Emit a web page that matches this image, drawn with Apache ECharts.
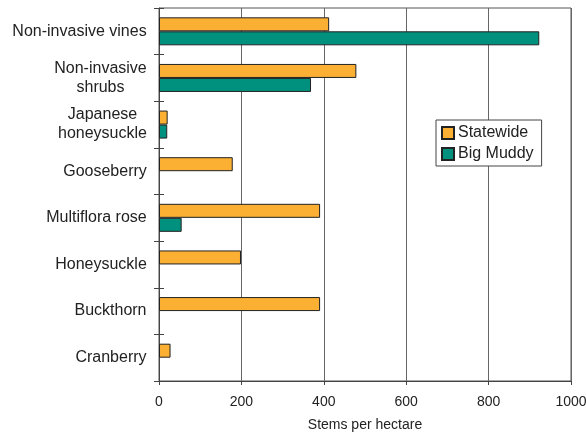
<!DOCTYPE html>
<html><head><meta charset="utf-8">
<script src="https://cdn.jsdelivr.net/npm/echarts@6/dist/echarts.min.js"></script>
<style>html,body{margin:0;padding:0;background:#fff}#c{width:586px;height:434px}</style>
</head><body><div id="c"></div>
<script>
const categories = ["Non-invasive vines", "Non-invasive\nshrubs", "Japanese\nhoneysuckle", "Gooseberry", "Multiflora rose", "Honeysuckle", "Buckthorn", "Cranberry"];
const statewide = [413, 479, 21, 179, 391, 199, 391, 28];
const bigMuddy = [923, 369, 20, null, 55, null, null, null];
const xTicks = [0, 200, 400, 600, 800, 1000];

const font = '"Liberation Sans", Arial, sans-serif';
const labelSize = 16;
const W = 586, GL = 159, GR = 15;
// centre the lines of each multi-line label within its own block
const ctx = document.createElement('canvas').getContext('2d');
ctx.font = labelSize + 'px ' + font;
const rich = {};
categories.forEach((c, i) => {
  const w = Math.max(...c.split('\n').map(s => ctx.measureText(s).width));
  rich['r' + i] = {width: Math.ceil(w), align: 'center', fontSize: labelSize, color: '#222', fontFamily: font, lineHeight: 19};
});

const chart = echarts.init(document.getElementById('c'), null, {renderer: 'canvas'});
const yBase = {type: 'category', data: categories, inverse: true};
chart.setOption({
  animation: false,
  textStyle: {fontFamily: font},
  grid: {left: GL, top: 8, right: GR, bottom: 53, show: true, borderColor: '#555', borderWidth: 1,
         containLabel: false, outerBoundsMode: 'none'},
  legend: {
    orient: 'vertical', left: 436, top: 120, backgroundColor: '#fff', borderColor: '#444', borderWidth: 1,
    padding: [5, 8, 4, 5], itemGap: 5, itemWidth: 12, itemHeight: 12, icon: 'rect',
    textStyle: {fontSize: 16, color: '#222', fontFamily: font, padding: [0, 0, 0, -1]},
    data: ['Statewide', 'Big Muddy']
  },
  xAxis: {
    type: 'value', min: xTicks[0], max: xTicks[xTicks.length - 1], interval: 200,
    name: 'Stems per hectare', nameLocation: 'middle', nameGap: 37,
    nameTextStyle: {fontSize: 14, color: '#222', fontFamily: font},
    axisLine: {show: true, lineStyle: {color: '#444'}},
    axisTick: {show: true, length: 4, inside: false, lineStyle: {color: '#444'}},
    axisLabel: {fontSize: 14, color: '#222', margin: 14, fontFamily: font, formatter: v => String(v)},
    splitLine: {show: true, lineStyle: {color: '#666', width: 1}}
  },
  yAxis: [
    Object.assign({}, yBase, {
      position: 'left',
      axisLine: {show: true, lineStyle: {color: '#444'}},
      axisTick: {show: true, length: 5, lineStyle: {color: '#444'}},
      axisLabel: {
        fontSize: labelSize, color: '#222', margin: 12, lineHeight: 19, align: 'right', fontFamily: font,
        formatter: (v, i) => v.split('\n').map(s => '{r' + i + '|' + s + '}').join('\n'),
        rich: rich
      },
      splitLine: {show: false}
    }),
    Object.assign({}, yBase, {
      position: 'right',
      offset: -(W - GL - GR),
      axisLine: {show: false},
      axisTick: {show: true, inside: false, length: 5, lineStyle: {color: '#444'}},
      axisLabel: {show: false},
      splitLine: {show: false}
    })
  ],
  series: [
    {name: 'Statewide', type: 'bar', data: statewide, barWidth: 14, barGap: '0%',
     itemStyle: {color: '#FBB033', borderColor: '#222', borderWidth: 1}},
    {name: 'Big Muddy', type: 'bar', data: bigMuddy, barWidth: 14, barGap: '0%',
     itemStyle: {color: '#00907E', borderColor: '#222', borderWidth: 1}}
  ]
});
</script></body></html>
